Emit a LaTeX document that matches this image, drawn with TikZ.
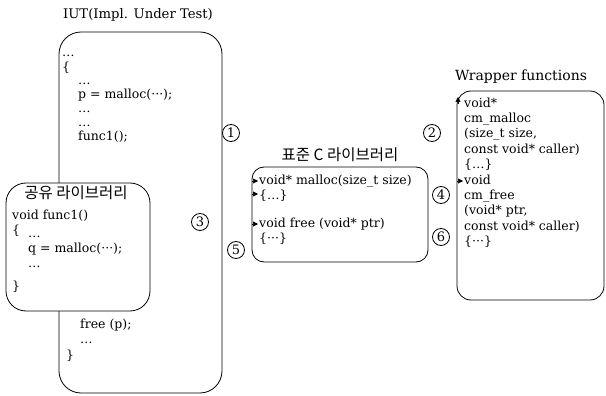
\documentclass[tikz,border=0pt]{standalone}
\usepackage{fontspec}
\setmainfont{DejaVu Serif}
\newfontfamily\kfont{Noto Sans CJK KR}
\usetikzlibrary{positioning, arrows.meta}

\begin{document}
\begin{tikzpicture}[x=1pt, y=-1pt,
    box/.style={draw, thick, rounded corners=#1},
    box/.default=18pt,
    code/.style={anchor=north west, align=left, inner sep=0pt,
      font=\fontsize{12.5}{15}\selectfont, execute at begin node=\strut},
    title/.style={inner sep=0pt, font=\fontsize{13.2}{15}\selectfont},
    ktitle/.style={inner sep=0pt, font=\kfont\fontsize{15.5}{17}\selectfont},
    num/.style={draw, circle, thick, inner sep=0pt, minimum size=17pt,
      font=\fontsize{13}{14}\selectfont},
    tip/.style={-{Triangle[length=5pt, width=5pt]}, semithick}]
  \useasboundingbox (0,0) rectangle (606,396);

  % IUT
  \node[title] (iutT) at (138,15) {IUT(Impl. Under Test)};
  \draw[box=22pt] (59,32) rectangle (222,393);
  \node[code] (iutA) at (62,65-10.5) {\dots\\ \{};
  \node[code, font=\fontsize{12.5}{14}\selectfont] (iutB) at (78,93-10.5)
    {\dots\\ p = malloc(···);\\ \dots\\ \dots\\ func1();};
  \node[code] (iutC) at (80,329-10.5) {free (p);\\ \dots};
  \node[code] (iutD) at (66,359-10.5) {\}};

  % shared library
  \draw[box=20pt, fill=white] (6,183) rectangle (150,311);
  \node[ktitle] (shT) at (76,193) {공유 라이브러리};
  \node[code] (shA) at (12,220-10.5) {void func1()\\ \{};
  \node[code] (shB) at (28,246-10.5) {\dots\\ q = malloc(···);\\ \dots};
  \node[code] (shC) at (12,290-10.5) {\}};

  % standard C library
  \node[ktitle] (stdT) at (340,155) {표준 C 라이브러리};
  \draw[box=12pt] (252,167) rectangle (428,262);
  \node[code] (stdA) at (259,185-10.5) {void* malloc(size\_t size)\\ \{\dots\}};
  \node[code] (stdB) at (259,228-10.5) {void free (void* ptr)\\ \{···\}};

  % wrapper functions
  \node[title, font=\fontsize{14}{15}\selectfont] (wrT) at (521,77) {Wrapper functions};
  \draw[box=14pt] (457,91) rectangle (604,300);
  \node[code, font=\fontsize{12.5}{15.4}\selectfont] (wrA) at (464,108-10.5)
    {void*\\ cm\_malloc\\ (size\_t size,\\ const void* caller)\\ \{\dots\}};
  \node[code, font=\fontsize{12.5}{15.4}\selectfont] (wrB) at (464,185-10.5)
    {void\\ cm\_free\\ (void* ptr,\\ const void* caller)\\ \{···\}};

  % steps
  \node[num] (n1) at (231,133) {1};
  \node[num] (n2) at (432,133) {2};
  \node[num] (n3) at (200,222) {3};
  \node[num] (n4) at (441,195) {4};
  \node[num] (n5) at (236,250) {5};
  \node[num] (n6) at (441,237) {6};

  % arrow tips on the box edges
  \coordinate (a1) at (252,181);
  \coordinate (a2) at (252,194);
  \coordinate (a3) at (252,224);
  \coordinate (a4) at (458,104);
  \coordinate (a5) at (457,181);
  \draw[tip] (a1) -- ++(6,0);
  \draw[tip] (a2) -- ++(6,0);
  \draw[tip] (a3) -- ++(6,0);
  \draw[tip] (a4) -- ++(0,-7);
  \draw[tip] (a5) -- ++(6,0);
\end{tikzpicture}
\end{document}
